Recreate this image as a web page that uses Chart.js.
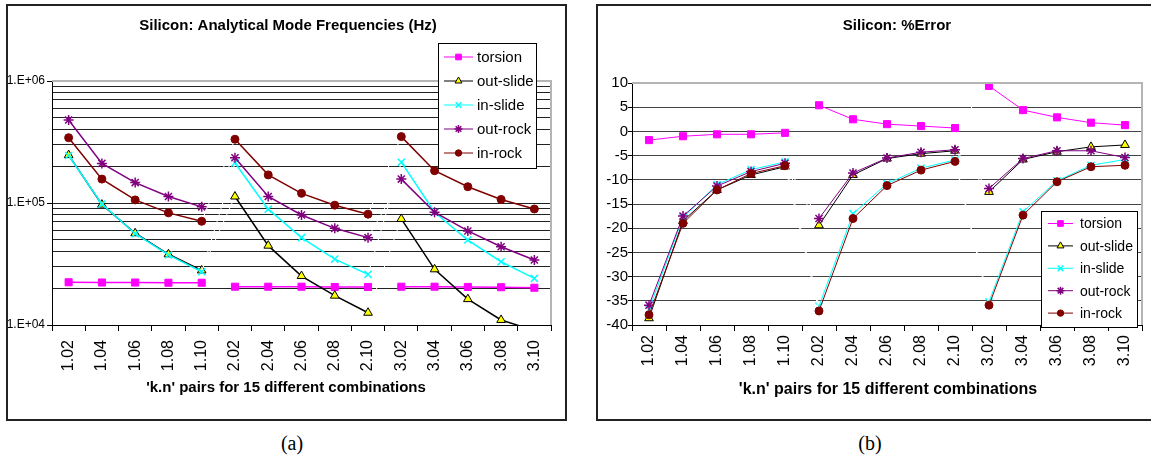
<!DOCTYPE html>
<html>
<head>
<meta charset="utf-8">
<script src="https://cdn.jsdelivr.net/npm/chart.js@4.4.1/dist/chart.umd.min.js"></script>
<style>
  html, body { margin: 0; padding: 0; background: #fff; overflow: hidden; }
  body { width: 1151px; height: 462px; position: relative; }
  .box { position: absolute; border: 2px solid #222; background: #fff; }
  .box canvas { display: block; }
  .cap { position: absolute; font: 20px "Liberation Serif", "Times New Roman", serif; color: #000; transform: translate(-50%, -50%); }
</style>
</head>
<body>
<div class="box" style="left:6px; top:4px; width:557px; height:413px;"><canvas id="freqChart" width="557" height="413"></canvas></div>
<div class="box" style="left:596px; top:4px; width:598px; height:413px;"><canvas id="errChart" width="598" height="413"></canvas></div>
<div class="cap" style="left:292px; top:443px;">(a)</div>
<div class="cap" style="left:870px; top:443px;">(b)</div>

<script>
// ---------- data ----------
const categories = ['1.02','1.04','1.06','1.08','1.10','2.02','2.04','2.06','2.08','2.10','3.02','3.04','3.06','3.08','3.10'];
const seriesNames = ['torsion','out-slide','in-slide','out-rock','in-rock'];

// (a) analytical mode frequencies, Hz
const torsionHz  = [22400, 22300, 22300, 22200, 22200, 20600, 20600, 20600, 20500, 20500, 20600, 20600, 20500, 20400, 20200];
const outSlideHz = [247000, 97000, 56500, 38000, 28000, 113000, 44700, 25200, 17400, 12600, 74000, 28600, 16300, 11000, 9000];
const inSlideHz  = [245000, 98000, 56000, 37500, 27300, 213000, 89000, 52000, 34700, 26000, 216000, 84000, 49700, 33000, 24100];
const outRockHz  = [479000, 211000, 147000, 113000, 93000, 235000, 113000, 79700, 62000, 52000, 157000, 84000, 59000, 43800, 34100];
const inRockHz   = [343000, 157000, 106000, 83000, 70800, 333000, 170000, 120000, 96000, 81000, 350000, 184000, 136000, 107000, 89300];

// (b) % error
const torsionErr  = [-1.8, -1.0, -0.6, -0.6, -0.3, 5.4, 2.5, 1.5, 1.1, 0.7, 9.4, 4.4, 2.9, 1.8, 1.3];
const outSlideErr = [-38.6, -18.5, -12.1, -9.0, -7.3, -19.4, -9.0, -5.6, -4.6, -4.0, -12.5, -5.8, -4.2, -3.2, -2.8];
const inSlideErr  = [-36.8, -17.8, -11.0, -7.9, -6.3, -36.1, -17.0, -10.8, -7.6, -5.9, -35.2, -16.6, -10.2, -7.0, -5.8];
const outRockErr  = [-35.9, -17.5, -11.3, -8.3, -6.6, -18.0, -8.6, -5.5, -4.3, -3.8, -11.8, -5.6, -4.0, -4.0, -5.4];
const inRockErr   = [-37.9, -19.0, -12.1, -8.7, -7.1, -37.1, -18.0, -11.2, -8.0, -6.2, -35.9, -17.3, -10.4, -7.3, -7.0];

// axis ticks
const logDecades = [1e4, 1e5];
const logSteps   = [1, 2, 3, 4, 5, 6, 7, 8, 9];
const logMax     = 1e6;
const errTicks   = [10, 5, 0, -5, -10, -15, -20, -25, -30, -35, -40];

// ---------- helpers ----------
const SANS = '"Liberation Sans", Arial, sans-serif';
const kOf = s => s.split('.')[0];
const breakAfter = i => i < categories.length - 1 && kOf(categories[i]) !== kOf(categories[i + 1]);

const freqTicks = logDecades.flatMap(d => logSteps.map(s => d * s)).concat([logMax]);
const isDecade = v => Math.abs(Math.log10(v) - Math.round(Math.log10(v))) < 1e-9;
const expLabel = v => '1.E+' + String(Math.round(Math.log10(v))).padStart(2, '0');

const styles = [
  { color: '#FF00FF', fill: '#FF00FF', edge: '#FF00FF', point: 'rect',     r: 5 },
  { color: '#000000', fill: '#FFFF00', edge: '#000000', point: 'triangle', r: 5 },
  { color: '#00FFFF', fill: '#00FFFF', edge: '#00FFFF', point: 'crossRot', r: 5 },
  { color: '#800080', fill: '#800080', edge: '#800080', point: 'star',     r: 5 },
  { color: '#800000', fill: '#800000', edge: '#800000', point: 'circle',   r: 4 }
];

function makeDatasets(seriesList, lineWidth) {
  return seriesList.map((data, i) => {
    const s = styles[i];
    return {
      label: seriesNames[i],
      data: data,
      borderColor: s.color,
      borderWidth: lineWidth,
      pointStyle: s.point,
      pointRadius: s.r,
      pointHoverRadius: s.r,
      pointBackgroundColor: s.fill,
      pointBorderColor: s.edge,
      pointBorderWidth: s.point === 'crossRot' || s.point === 'star' ? 1.5 : 1,
      tension: 0,
      clip: 0,
      order: seriesList.length - i,   // later series on top, like the original
      segment: {
        borderColor: c => breakAfter(c.p0DataIndex) ? '#ffffff' : undefined,
        borderWidth: c => breakAfter(c.p0DataIndex) ? 1 : undefined
      }
    };
  });
}

// legend box drawn inside the plot, plus captions and plot frame
const boxLegend = {
  id: 'boxLegend',
  afterDraw(chart, args, o) {
    const ctx = chart.ctx;
    ctx.save();
    ctx.fillStyle = '#fff';
    ctx.fillRect(o.left, o.top, o.width, o.height);
    ctx.strokeStyle = '#000';
    ctx.lineWidth = 1;
    ctx.strokeRect(o.left + 0.5, o.top + 0.5, o.width, o.height);
    ctx.font = o.font;
    ctx.textBaseline = 'middle';
    ctx.textAlign = 'left';
    chart.data.datasets.forEach((ds, i) => {
      const y = o.rowTop + i * o.rowStep;
      ctx.strokeStyle = ds.borderColor;
      ctx.lineWidth = 1;
      ctx.beginPath();
      ctx.moveTo(o.lineX0, y);
      ctx.lineTo(o.lineX1, y);
      ctx.stroke();
      ctx.fillStyle = ds.pointBackgroundColor;
      ctx.strokeStyle = ds.pointBorderColor;
      ctx.lineWidth = ds.pointBorderWidth;
      const px = (o.lineX0 + o.lineX1) / 2;
      if (Chart.helpers && Chart.helpers.drawPoint) {
        Chart.helpers.drawPoint(ctx, { pointStyle: ds.pointStyle, radius: ds.pointRadius * 0.8, rotation: 0, borderWidth: ds.pointBorderWidth }, px, y);
      } else {
        ctx.fillRect(px - 3, y - 3, 6, 6);
      }
      ctx.fillStyle = '#000';
      ctx.fillText(ds.label, o.textX, y + 1);
    });
    ctx.restore();
  }
};

const captions = {
  id: 'captions',
  afterDraw(chart, args, o) {
    const ctx = chart.ctx, a = chart.chartArea;
    ctx.save();
    // grey frame on top/right of plot
    ctx.strokeStyle = '#b4b4b4';
    ctx.lineWidth = 2;
    ctx.beginPath();
    ctx.moveTo(a.left, a.top);
    ctx.lineTo(a.right, a.top);
    ctx.lineTo(a.right, a.bottom);
    ctx.stroke();
    ctx.fillStyle = '#000';
    ctx.textAlign = 'center';
    ctx.textBaseline = 'middle';
    o.items.forEach(t => {
      ctx.font = t.font;
      ctx.fillText(t.text, t.x, t.y);
    });
    ctx.restore();
  }
};

const xAxis = (pad) => ({
  type: 'category',
  offset: true,
  afterFit: s => { s.height = 94; },
  border: { color: '#000', width: 1 },
  grid: { drawOnChartArea: false, tickLength: 6, tickColor: '#000', offset: true },
  ticks: { autoSkip: false, minRotation: 90, maxRotation: 90, padding: pad, color: '#000', font: { family: SANS, size: 16 } }
});

// ---------- (a) frequencies, log axis ----------
new Chart(document.getElementById('freqChart'), {
  type: 'line',
  data: { labels: categories, datasets: makeDatasets([torsionHz, outSlideHz, inSlideHz, outRockHz, inRockHz], 1.5) },
  options: {
    responsive: false,
    animation: false,
    layout: { padding: { left: 0, right: 14, top: 75, bottom: 0 } },
    plugins: {
      legend: { display: false },
      tooltip: { enabled: false },
      title: { display: false },
      boxLegend: { left: 430, top: 37, width: 98, height: 125, rowTop: 51, rowStep: 24, lineX0: 436, lineX1: 465, textX: 469, font: '15px ' + SANS },
      captions: { items: [
        { text: 'Silicon: Analytical Mode Frequencies (Hz)', x: 280, y: 20, font: 'bold 15px ' + SANS },
        { text: "'k.n' pairs for 15 different combinations", x: 278, y: 382, font: 'bold 15px ' + SANS }
      ] }
    },
    scales: {
      x: xAxis(9),
      y: {
        type: 'logarithmic',
        min: 1e4,
        max: logMax,
        afterFit: s => { s.width = 44; },
        afterBuildTicks: s => { s.ticks = freqTicks.map(v => ({ value: v, major: isDecade(v) })); },
        border: { color: '#000', width: 1 },
        grid: {
          color: '#222',
          lineWidth: 1,
          tickLength: 5,
          tickColor: c => (c.tick && isDecade(c.tick.value)) ? '#000' : 'rgba(0,0,0,0)'
        },
        ticks: {
          autoSkip: false,
          padding: 2,
          color: '#000',
          font: { family: SANS, size: 12 },
          callback: v => isDecade(v) ? expLabel(v) : ''
        }
      }
    }
  },
  plugins: [captions, boxLegend]
});

// ---------- (b) % error ----------
new Chart(document.getElementById('errChart'), {
  type: 'line',
  data: { labels: categories, datasets: makeDatasets([torsionErr, outSlideErr, inSlideErr, outRockErr, inRockErr], 1) },
  options: {
    responsive: false,
    animation: false,
    layout: { padding: { left: 0, right: 54, top: 77, bottom: 0 } },
    plugins: {
      legend: { display: false },
      tooltip: { enabled: false },
      title: { display: false },
      boxLegend: { left: 443, top: 205, width: 96, height: 116, rowTop: 217.5, rowStep: 22.4, lineX0: 450, lineX1: 475, textX: 482, font: '14px ' + SANS },
      captions: { items: [
        { text: 'Silicon: %Error', x: 299, y: 20, font: 'bold 15px ' + SANS },
        { text: "'k.n' pairs for 15 different combinations", x: 290, y: 384, font: 'bold 16px ' + SANS }
      ] }
    },
    scales: {
      x: xAxis(4),
      y: {
        min: errTicks[errTicks.length - 1],
        max: errTicks[0],
        afterFit: s => { s.width = 34; },
        afterBuildTicks: s => { s.ticks = errTicks.map(v => ({ value: v })); },
        border: { color: '#000', width: 1 },
        grid: { color: '#444', lineWidth: 1, tickLength: 4, tickColor: '#000' },
        ticks: { autoSkip: false, padding: 0, color: '#000', font: { family: SANS, size: 15 } }
      }
    }
  },
  plugins: [captions, boxLegend]
});
</script>
</body>
</html>
